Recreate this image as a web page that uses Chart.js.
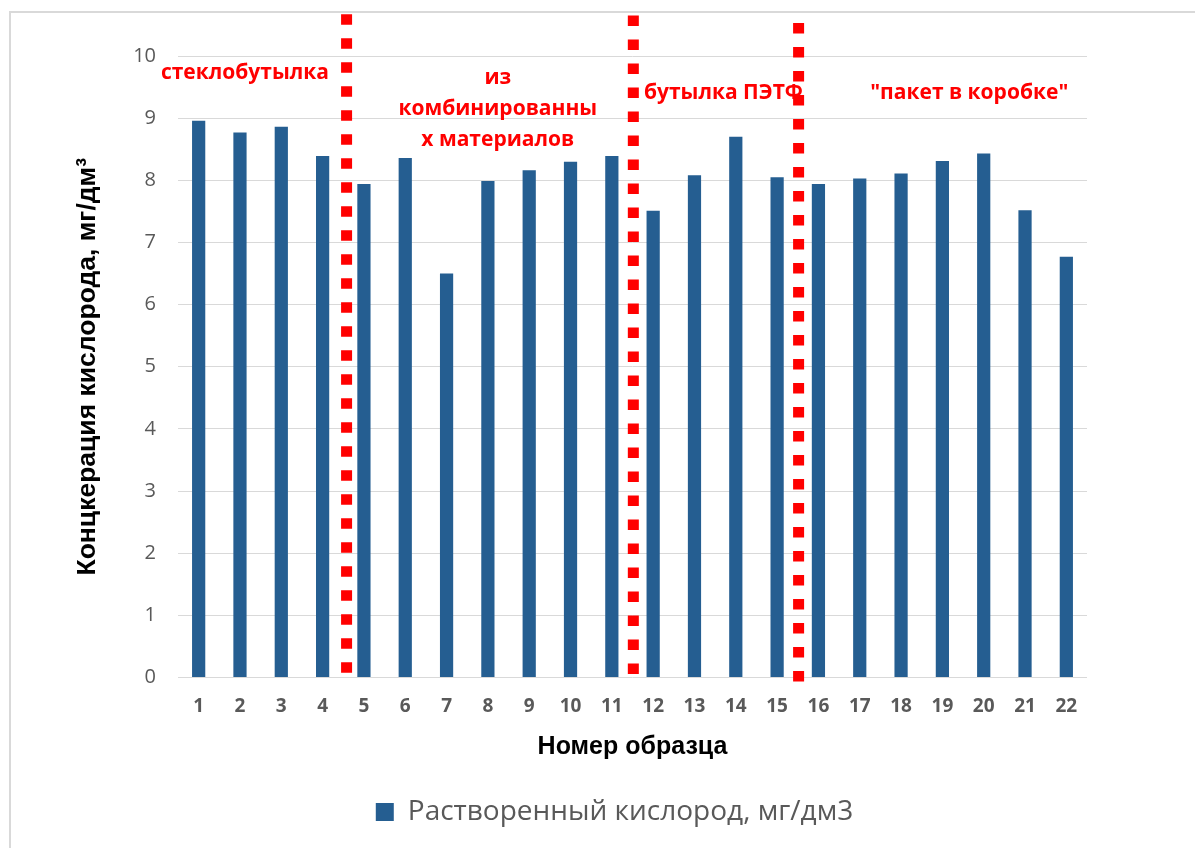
<!DOCTYPE html>
<html>
<head>
<meta charset="utf-8">
<script src="https://cdn.jsdelivr.net/npm/chart.js@4/dist/chart.umd.min.js"></script>
<style>
  html, body { margin: 0; padding: 0; background: #fff; }
  #wrap { position: relative; width: 1195px; height: 848px; overflow: hidden; }
  #frame { position: absolute; left: 9px; top: 11px; width: 1300px; height: 900px;
           border-left: 2px solid #d9d9d9; border-top: 2px solid #d9d9d9; box-sizing: border-box; }
  canvas { position: absolute; left: 0; top: 0; }
</style>
</head>
<body>
<div id="wrap">
  <div id="frame"></div>
  <canvas id="c" width="1195" height="848"></canvas>
</div>
<script>
const categories = ['1','2','3','4','5','6','7','8','9','10','11','12','13','14','15','16','17','18','19','20','21','22'];
const oxygenValues = [8.96, 8.77, 8.86, 8.39, 7.94, 8.36, 6.50, 7.99, 8.16, 8.30, 8.39, 7.51, 8.08, 8.70, 8.05, 7.94, 8.03, 8.11, 8.31, 8.43, 7.52, 6.77];
const yTicks = [0,1,2,3,4,5,6,7,8,9,10];
const seriesLabel = 'Растворенный кислород, мг/дм3';
const yTitle = 'Концкерация кислорода, мг/дм³';
const xTitle = 'Номер образца';
const groupLabels = [
  { lines: ['стеклобутылка'], x: 1.12, y: 9.72 },
  { lines: ['из', 'комбинированны', 'х материалов'], x: 7.24, y: 9.64 },
  { lines: ['бутылка ПЭТФ'], x: 12.70, y: 9.40 },
  { lines: ['"пакет в коробке"'], x: 18.65, y: 9.40 }
];
const separators = [
  { x: 3.58, from: 10.67, to: 0.04 },
  { x: 10.52, from: 10.65, to: 0.02 },
  { x: 14.52, from: 10.53, to: -0.12 }
];

const BLUE = '#255e91';
const GREY = '#595959';

const overlay = {
  id: 'overlay',
  afterLayout(chart) {
    if (chart.legend) { chart.legend.left += 41; chart.legend.right += 41; }
  },
  afterDatasetsDraw(chart) {
    const ctx = chart.ctx, xs = chart.scales.x, ys = chart.scales.y;
    ctx.save();
    ctx.strokeStyle = '#ff0000';
    ctx.lineWidth = 11;
    ctx.lineCap = 'butt';
    ctx.setLineDash([10.5, 13.5]);
    separators.forEach(s => {
      const px = xs.getPixelForValue(s.x);
      ctx.beginPath();
      ctx.moveTo(px, ys.getPixelForValue(s.from));
      ctx.lineTo(px, ys.getPixelForValue(s.to));
      ctx.stroke();
    });
    ctx.setLineDash([]);
    ctx.fillStyle = '#ff0000';
    ctx.font = 'bold 21px "Open Sans"';
    ctx.textAlign = 'center';
    ctx.textBaseline = 'middle';
    groupLabels.forEach(g => {
      const px = xs.getPixelForValue(g.x);
      const py0 = ys.getPixelForValue(g.y);
      g.lines.forEach((t, i) => ctx.fillText(t, px, py0 + i * 31));
    });
    ctx.restore();
  }
};

new Chart(document.getElementById('c'), {
  type: 'bar',
  data: {
    labels: categories,
    datasets: [{
      label: seriesLabel,
      data: oxygenValues,
      backgroundColor: BLUE,
      borderWidth: 0,
      categoryPercentage: 1,
      barPercentage: 0.32
    }]
  },
  options: {
    responsive: false,
    animation: false,
    devicePixelRatio: 1,
    layout: { padding: { left: 60, top: 56, right: 108, bottom: 12 } },
    plugins: {
      legend: {
        position: 'bottom',
        labels: {
          color: GREY,
          font: { family: '"Open Sans"', size: 28 },
          boxWidth: 18, boxHeight: 18, padding: 12
        }
      },
      tooltip: { enabled: false }
    },
    scales: {
      x: {
        grid: { display: false, drawTicks: false },
        border: { display: false },
        ticks: { color: GREY, font: { family: '"Open Sans"', size: 19, weight: 'bold' }, padding: 18, maxRotation: 0 },
        title: { display: true, text: xTitle, color: '#000', font: { family: '"Liberation Sans"', size: 25, weight: 'bold' }, padding: { top: 0, bottom: 24 } },
        afterFit(s) { s.height = 108.5; }
      },
      y: {
        min: 0, max: 10,
        afterBuildTicks(s) { s.ticks = yTicks.map(v => ({ value: v })); },
        grid: { color: '#d9d9d9', lineWidth: 1, drawTicks: false },
        border: { display: false },
        ticks: { color: GREY, font: { family: '"Open Sans"', size: 20 }, padding: 22 },
        title: { display: true, text: yTitle, color: '#000', font: { family: '"Liberation Sans"', size: 26.5, weight: 'bold' }, padding: { top: 12, bottom: 0 } },
        afterFit(s) { s.width = 118; }
      }
    }
  },
  plugins: [overlay]
});
</script>
</body>
</html>
